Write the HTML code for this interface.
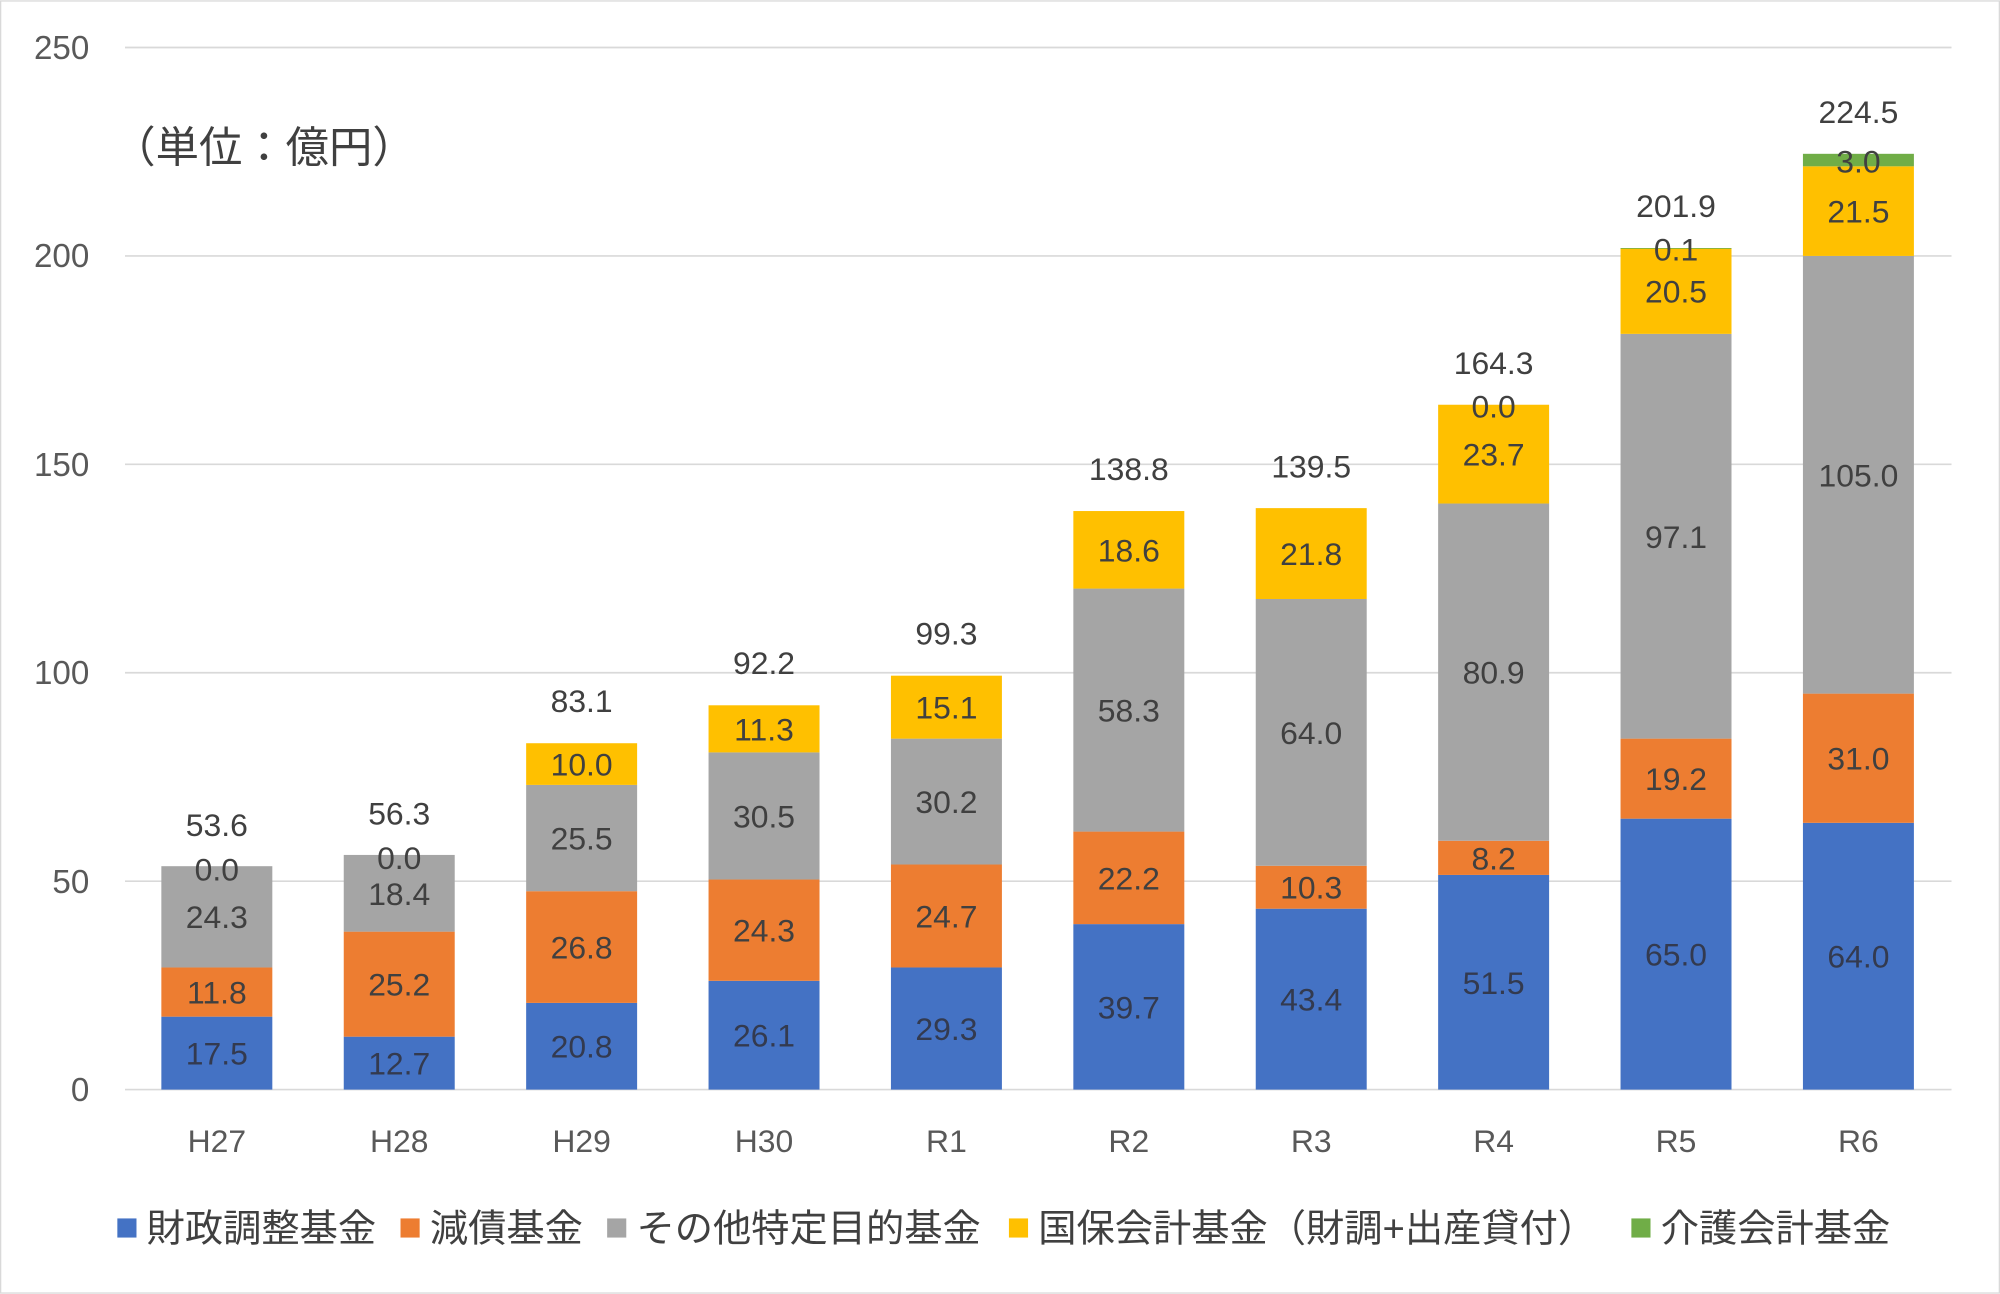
<!DOCTYPE html>
<html><head><meta charset="utf-8"><style>
html,body{margin:0;padding:0;background:#fff;}
svg{display:block;}
text{font-family:"Liberation Sans","Noto Sans CJK JP",sans-serif;}
</style></head><body>
<svg width="2000" height="1294" viewBox="0 0 1568 1014" xmlns="http://www.w3.org/2000/svg">
<rect x="0.5" y="0.5" width="1567" height="1013" fill="#fff" stroke="#d9d9d9"/>
<g stroke="#d9d9d9" stroke-width="1.3">
<line x1="98" x2="1530" y1="37" y2="37"/><line x1="98" x2="1530" y1="200.4" y2="200.4"/>
<line x1="98" x2="1530" y1="363.8" y2="363.8"/><line x1="98" x2="1530" y1="527.2" y2="527.2"/>
<line x1="98" x2="1530" y1="690.6" y2="690.6"/><line x1="98" x2="1530" y1="854" y2="854"/>
</g>
<g font-size="26" fill="#595959" text-anchor="end">
<text x="70" y="46">250</text><text x="70" y="209">200</text><text x="70" y="373">150</text>
<text x="70" y="536">100</text><text x="70" y="700">50</text><text x="70" y="863">0</text>
</g>
<text x="88" y="127" font-size="34" fill="#404040">（単位：億円）</text>
<g>
<!-- H27 -->
<rect x="126.5" y="796.81" width="87" height="57.19" fill="#4472C4"/>
<rect x="126.5" y="758.25" width="87" height="38.56" fill="#ED7D31"/>
<rect x="126.5" y="678.84" width="87" height="79.41" fill="#A5A5A5"/>
<!-- H28 -->
<rect x="269.5" y="812.5" width="87" height="41.5" fill="#4472C4"/>
<rect x="269.5" y="730.15" width="87" height="82.35" fill="#ED7D31"/>
<rect x="269.5" y="670.02" width="87" height="60.13" fill="#A5A5A5"/>
<!-- H29 -->
<rect x="412.5" y="786.03" width="87" height="67.97" fill="#4472C4"/>
<rect x="412.5" y="698.45" width="87" height="87.58" fill="#ED7D31"/>
<rect x="412.5" y="615.12" width="87" height="83.33" fill="#A5A5A5"/>
<rect x="412.5" y="582.44" width="87" height="32.68" fill="#FFC000"/>
<!-- H30 -->
<rect x="555.5" y="768.71" width="87" height="85.29" fill="#4472C4"/>
<rect x="555.5" y="689.3" width="87" height="79.41" fill="#ED7D31"/>
<rect x="555.5" y="589.63" width="87" height="99.67" fill="#A5A5A5"/>
<rect x="555.5" y="552.7" width="87" height="36.93" fill="#FFC000"/>
<!-- R1 -->
<rect x="698.5" y="758.25" width="87" height="95.75" fill="#4472C4"/>
<rect x="698.5" y="677.53" width="87" height="80.72" fill="#ED7D31"/>
<rect x="698.5" y="578.84" width="87" height="98.69" fill="#A5A5A5"/>
<rect x="698.5" y="529.49" width="87" height="49.35" fill="#FFC000"/>
<!-- R2 -->
<rect x="841.5" y="724.26" width="87" height="129.74" fill="#4472C4"/>
<rect x="841.5" y="651.71" width="87" height="72.55" fill="#ED7D31"/>
<rect x="841.5" y="461.19" width="87" height="190.52" fill="#A5A5A5"/>
<rect x="841.5" y="400.41" width="87" height="60.78" fill="#FFC000"/>
<!-- R3 -->
<rect x="984.5" y="712.17" width="87" height="141.83" fill="#4472C4"/>
<rect x="984.5" y="678.51" width="87" height="33.66" fill="#ED7D31"/>
<rect x="984.5" y="469.36" width="87" height="209.15" fill="#A5A5A5"/>
<rect x="984.5" y="398.12" width="87" height="71.24" fill="#FFC000"/>
<!-- R4 -->
<rect x="1127.5" y="685.7" width="87" height="168.3" fill="#4472C4"/>
<rect x="1127.5" y="658.9" width="87" height="26.8" fill="#ED7D31"/>
<rect x="1127.5" y="394.52" width="87" height="264.38" fill="#A5A5A5"/>
<rect x="1127.5" y="317.07" width="87" height="77.45" fill="#FFC000"/>
<!-- R5 -->
<rect x="1270.5" y="641.58" width="87" height="212.42" fill="#4472C4"/>
<rect x="1270.5" y="578.83" width="87" height="62.75" fill="#ED7D31"/>
<rect x="1270.5" y="261.51" width="87" height="317.32" fill="#A5A5A5"/>
<rect x="1270.5" y="194.52" width="87" height="66.99" fill="#FFC000"/>
<rect x="1270.5" y="194.19" width="87" height="0.6" fill="#70AD47"/>
<!-- R6 -->
<rect x="1413.5" y="644.85" width="87" height="209.15" fill="#4472C4"/>
<rect x="1413.5" y="543.54" width="87" height="101.31" fill="#ED7D31"/>
<rect x="1413.5" y="200.4" width="87" height="343.14" fill="#A5A5A5"/>
<rect x="1413.5" y="130.14" width="87" height="70.26" fill="#FFC000"/>
<rect x="1413.5" y="120.34" width="87" height="9.8" fill="#70AD47"/>
</g>
<g font-size="25" text-anchor="middle" fill="#333a4f">
<text x="170" y="834.4">17.5</text><text x="313" y="842.3">12.7</text><text x="456" y="829">20.8</text>
<text x="599" y="820.4">26.1</text><text x="742" y="815.1">29.3</text><text x="885" y="798.1">39.7</text>
<text x="1028" y="792.1">43.4</text><text x="1171" y="778.9">51.5</text><text x="1314" y="756.8">65.0</text>
<text x="1457" y="758.4">64.0</text>
</g>
<g font-size="25" text-anchor="middle" fill="#404040">
<text x="170" y="786.5">11.8</text><text x="170" y="727.5">24.3</text><text x="170" y="690">0.0</text><text x="170" y="655">53.6</text>
<text x="313" y="780.3">25.2</text><text x="313" y="709.1">18.4</text><text x="313" y="681">0.0</text><text x="313" y="646">56.3</text>
<text x="456" y="751.2">26.8</text><text x="456" y="665.8">25.5</text><text x="456" y="607.8">10.0</text><text x="456" y="558">83.1</text>
<text x="599" y="738">24.3</text><text x="599" y="648.5">30.5</text><text x="599" y="580.2">11.3</text><text x="599" y="528">92.2</text>
<text x="742" y="726.9">24.7</text><text x="742" y="637.2">30.2</text><text x="742" y="563.2">15.1</text><text x="742" y="505">99.3</text>
<text x="885" y="697">22.2</text><text x="885" y="565.4">58.3</text><text x="885" y="439.8">18.6</text><text x="885" y="376">138.8</text>
<text x="1028" y="704.3">10.3</text><text x="1028" y="582.9">64.0</text><text x="1028" y="442.7">21.8</text><text x="1028" y="374">139.5</text>
<text x="1171" y="681.3">8.2</text><text x="1171" y="535.7">80.9</text><text x="1171" y="364.8">23.7</text><text x="1171" y="327">0.0</text><text x="1171" y="293">164.3</text>
<text x="1314" y="619.2">19.2</text><text x="1314" y="429.2">97.1</text><text x="1314" y="237">20.5</text><text x="1314" y="204">0.1</text><text x="1314" y="170">201.9</text>
<text x="1457" y="603.2">31.0</text><text x="1457" y="381">105.0</text><text x="1457" y="174.3">21.5</text><text x="1457" y="135">3.0</text><text x="1457" y="96">224.5</text>
</g>
<g font-size="25" text-anchor="middle" fill="#595959">
<text x="170" y="903">H27</text><text x="313" y="903">H28</text><text x="456" y="903">H29</text>
<text x="599" y="903">H30</text><text x="742" y="903">R1</text><text x="885" y="903">R2</text>
<text x="1028" y="903">R3</text><text x="1171" y="903">R4</text><text x="1314" y="903">R5</text>
<text x="1457" y="903">R6</text>
</g>
<g font-size="30" fill="#404040">
<rect x="92" y="955" width="15" height="15" fill="#4472C4"/><text x="115" y="973">財政調整基金</text>
<rect x="314" y="955" width="15" height="15" fill="#ED7D31"/><text x="337" y="973">減債基金</text>
<rect x="476" y="955" width="15" height="15" fill="#A5A5A5"/><text x="499" y="973">その他特定目的基金</text>
<rect x="791" y="955" width="15" height="15" fill="#FFC000"/><text x="814" y="973">国保会計基金（財調+出産貸付）</text>
<rect x="1279" y="955" width="15" height="15" fill="#70AD47"/><text x="1302" y="973">介護会計基金</text>
</g>
</svg>
</body></html>
